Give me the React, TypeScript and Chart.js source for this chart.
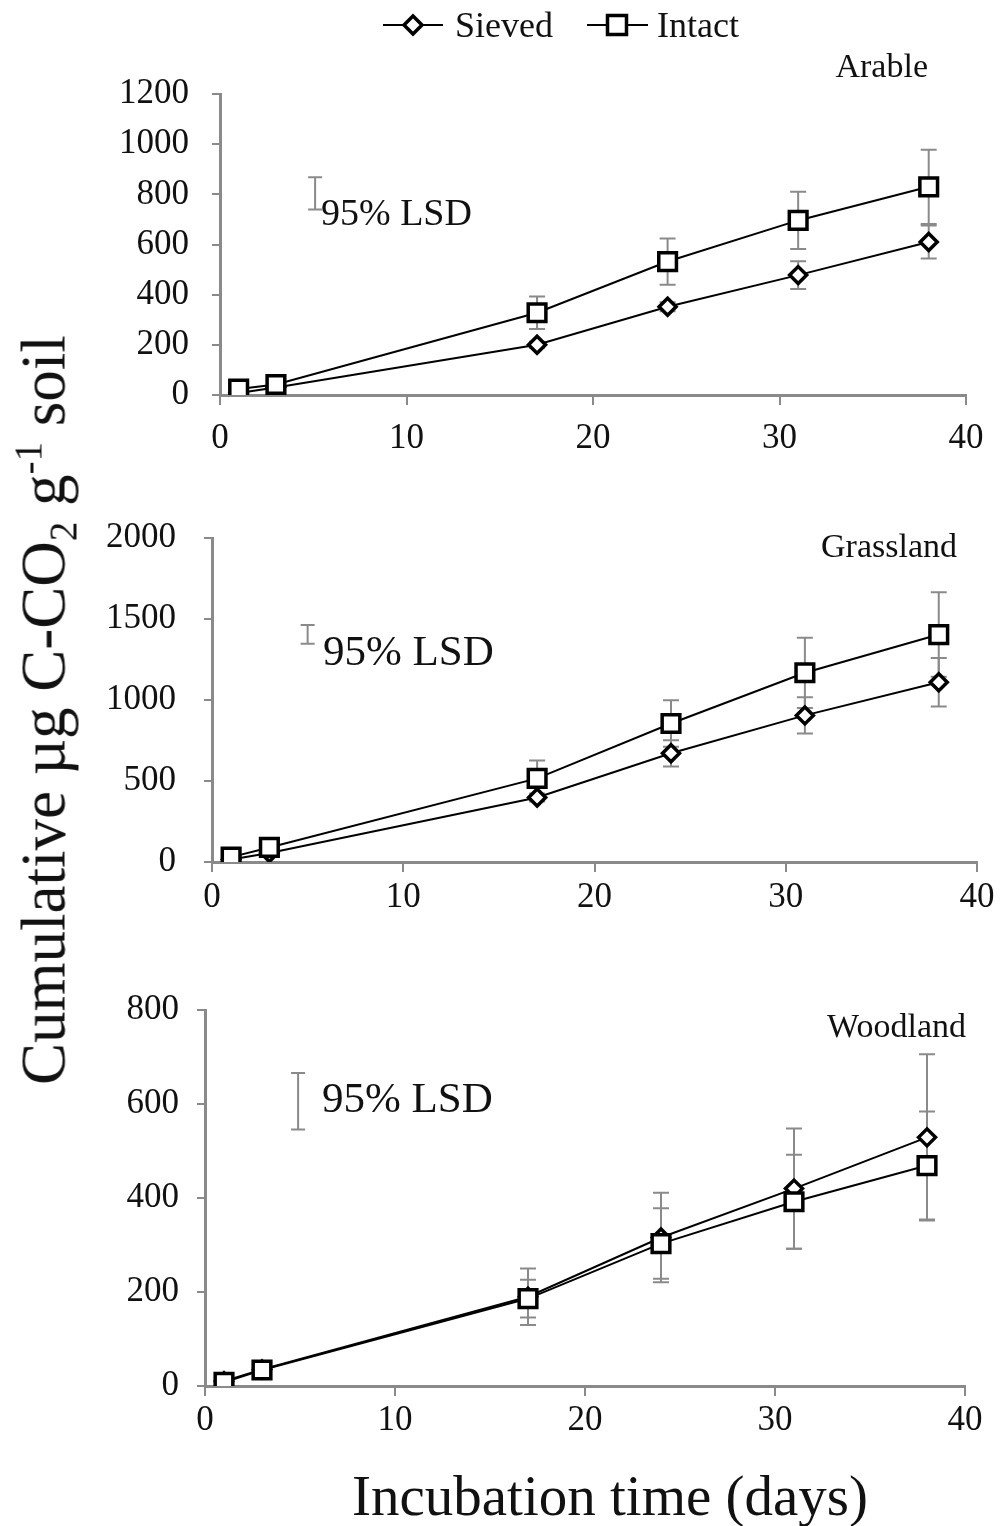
import React, { useEffect, useRef } from "react";
import { Chart, registerables } from "chart.js";

Chart.register(...registerables);

// ---------------- DATA ----------------
const days = [1, 3, 17, 24, 31, 38];
const xTicks = [0, 10, 20, 30, 40];
const seriesNames = ["Sieved", "Intact"];
const panelTitles = ["Arable", "Grassland", "Woodland"];

const arableSieved = [8, 30, 200, 352, 478, 610];
const arableSievedErr = [4, 8, 12, 18, 55, 66];
const arableIntact = [24, 42, 328, 532, 696, 830];
const arableIntactErr = [5, 10, 65, 92, 114, 148];

const grassSieved = [15, 55, 398, 671, 905, 1110];
const grassSievedErr = [5, 10, 25, 81, 112, 150];
const grassIntact = [30, 90, 516, 855, 1168, 1404];
const grassIntactErr = [8, 15, 111, 143, 217, 261];

const woodSieved = [10, 35, 190, 316, 420, 529];
const woodSievedErr = [4, 8, 60, 95, 128, 177];
const woodIntact = [8, 34, 186, 303, 392, 469];
const woodIntactErr = [4, 8, 40, 75, 100, 115];

const yTicksArable = [0, 200, 400, 600, 800, 1000, 1200];
const yTicksGrass = [0, 500, 1000, 1500, 2000];
const yTicksWood = [0, 200, 400, 600, 800];

const lsdDay = [5.1, 5.0, 4.9];
const lsdCenter = [804, 1405, 606];
const lsdHalf = [64, 58, 60];
const lsdLabel = "95% LSD";

const sievedSets = [arableSieved, grassSieved, woodSieved];
const sievedErrSets = [arableSievedErr, grassSievedErr, woodSievedErr];
const intactSets = [arableIntact, grassIntact, woodIntact];
const intactErrSets = [arableIntactErr, grassIntactErr, woodIntactErr];
const yTickSets = [yTicksArable, yTicksGrass, yTicksWood];

// ---------------- LAYOUT ----------------
const W = 1001;
const H = 1526;
const XH = 60;
const SERIF = '"Liberation Serif", "Times New Roman", serif';
const AXIS = "#8a8a8a";
const ERR = "#8a8a8a";

const PANELS = [
  { left: 220, right: 966, top: 94, bottom: 395, yPad: 23, xPad: 13, titleX: 928, titleY: 77, lsdTextX: 321, lsdTextY: 225, lsdFont: 38 },
  { left: 212, right: 977, top: 538, bottom: 862, yPad: 28, xPad: 5, titleX: 957, titleY: 557, lsdTextX: 323, lsdTextY: 665, lsdFont: 43 },
  { left: 205, right: 965, top: 1010, bottom: 1386, yPad: 18, xPad: 4, titleX: 966, titleY: 1037, lsdTextX: 322, lsdTextY: 1112, lsdFont: 43 },
];

function drawDiamond(ctx: CanvasRenderingContext2D, x: number, y: number, r: number) {
  ctx.beginPath();
  ctx.moveTo(x, y - r);
  ctx.lineTo(x + r, y);
  ctx.lineTo(x, y + r);
  ctx.lineTo(x - r, y);
  ctx.closePath();
  ctx.fillStyle = "#fff";
  ctx.fill();
  ctx.lineWidth = 3.5;
  ctx.strokeStyle = "#000";
  ctx.stroke();
}

function drawSquare(ctx: CanvasRenderingContext2D, x: number, y: number, h: number) {
  ctx.beginPath();
  ctx.rect(x - h, y - h, 2 * h, 2 * h);
  ctx.fillStyle = "#fff";
  ctx.fill();
  ctx.lineWidth = 3.5;
  ctx.strokeStyle = "#000";
  ctx.stroke();
}

function makeConfig(i: number): any {
  const p = PANELS[i];

  const errorBars = {
    id: "errBars",
    beforeDatasetsDraw(chart: any) {
      const { ctx } = chart;
      const xs = chart.scales.x;
      const ys = chart.scales.y;
      ctx.save();
      ctx.strokeStyle = ERR;
      ctx.lineWidth = 2;
      chart.data.datasets.forEach((ds: any) => {
        ds.data.forEach((pt: any, k: number) => {
          const e = ds.errors[k];
          const px = xs.getPixelForValue(pt.x);
          const y1 = ys.getPixelForValue(pt.y + e);
          const y2 = ys.getPixelForValue(Math.max(0, pt.y - e));
          ctx.beginPath();
          ctx.moveTo(px, y1);
          ctx.lineTo(px, y2);
          ctx.moveTo(px - 8, y1);
          ctx.lineTo(px + 8, y1);
          ctx.moveTo(px - 8, y2);
          ctx.lineTo(px + 8, y2);
          ctx.stroke();
        });
      });
      ctx.restore();
    },
  };

  const extras = {
    id: "extras",
    afterDraw(chart: any) {
      const { ctx } = chart;
      const xs = chart.scales.x;
      const ys = chart.scales.y;
      ctx.save();
      // LSD bar
      const lx = xs.getPixelForValue(lsdDay[i]);
      const ly1 = ys.getPixelForValue(lsdCenter[i] + lsdHalf[i]);
      const ly2 = ys.getPixelForValue(lsdCenter[i] - lsdHalf[i]);
      ctx.strokeStyle = ERR;
      ctx.lineWidth = 2;
      ctx.beginPath();
      ctx.moveTo(lx, ly1);
      ctx.lineTo(lx, ly2);
      ctx.moveTo(lx - 7, ly1);
      ctx.lineTo(lx + 7, ly1);
      ctx.moveTo(lx - 7, ly2);
      ctx.lineTo(lx + 7, ly2);
      ctx.stroke();
      // LSD text
      ctx.fillStyle = "#111";
      ctx.textBaseline = "alphabetic";
      ctx.textAlign = "left";
      ctx.font = `${p.lsdFont}px ${SERIF}`;
      ctx.fillText(lsdLabel, p.lsdTextX, p.lsdTextY);
      // panel title
      ctx.textAlign = "right";
      ctx.font = `34px ${SERIF}`;
      ctx.fillText(panelTitles[i], p.titleX, p.titleY);

      if (i === 0) {
        // legend
        ctx.strokeStyle = "#000";
        ctx.lineWidth = 2;
        ctx.beginPath();
        ctx.moveTo(383, 25);
        ctx.lineTo(443, 25);
        ctx.moveTo(587, 25);
        ctx.lineTo(648, 25);
        ctx.stroke();
        drawDiamond(ctx, 413, 25, 9);
        drawSquare(ctx, 617, 25, 9.5);
        ctx.fillStyle = "#111";
        ctx.textAlign = "left";
        ctx.font = `36px ${SERIF}`;
        ctx.fillText(seriesNames[0], 455, 37);
        ctx.fillText(seriesNames[1], 657, 37);
      }
      ctx.restore();
    },
  };

  const tickFont = { family: SERIF, size: 35 };

  return {
    type: "line",
    data: {
      datasets: [
        {
          label: seriesNames[1],
          data: days.map((d, k) => ({ x: d, y: intactSets[i][k] })),
          errors: intactErrSets[i],
          borderColor: "#000",
          borderWidth: 2,
          pointStyle: "rect",
          pointRadius: 12.5,
          pointHoverRadius: 12.5,
          pointBackgroundColor: "#fff",
          pointBorderColor: "#000",
          pointBorderWidth: 3.5,
          tension: 0,
          fill: false,
        },
        {
          label: seriesNames[0],
          data: days.map((d, k) => ({ x: d, y: sievedSets[i][k] })),
          errors: sievedErrSets[i],
          borderColor: "#000",
          borderWidth: 2,
          pointStyle: "rectRot",
          pointRadius: 8.5,
          pointHoverRadius: 8.5,
          pointBackgroundColor: "#fff",
          pointBorderColor: "#000",
          pointBorderWidth: 3.5,
          tension: 0,
          fill: false,
        },
      ],
    },
    options: {
      responsive: false,
      animation: false,
      devicePixelRatio: 1,
      events: [],
      layout: {
        padding: { top: p.top, left: 0, right: W - p.right, bottom: H - p.bottom - XH },
      },
      plugins: {
        legend: { display: false },
        tooltip: { enabled: false },
        title: { display: false },
      },
      scales: {
        x: {
          type: "linear",
          min: 0,
          max: 40,
          afterBuildTicks: (s: any) => {
            s.ticks = xTicks.map((v) => ({ value: v }));
          },
          afterFit: (s: any) => {
            s.height = XH;
          },
          ticks: {
            font: tickFont,
            color: "#111",
            padding: p.xPad,
            maxRotation: 0,
            autoSkip: false,
            callback: (v: any) => String(v),
          },
          grid: { drawOnChartArea: false, drawTicks: true, tickLength: 10, color: AXIS, lineWidth: 2 },
          border: { display: true, color: AXIS, width: 3 },
        },
        y: {
          type: "linear",
          min: 0,
          max: yTickSets[i][yTickSets[i].length - 1],
          afterBuildTicks: (s: any) => {
            s.ticks = yTickSets[i].map((v) => ({ value: v }));
          },
          afterFit: (s: any) => {
            s.width = p.left;
          },
          ticks: {
            font: tickFont,
            color: "#111",
            padding: p.yPad,
            autoSkip: false,
            callback: (v: any) => String(v),
          },
          grid: { drawOnChartArea: false, drawTicks: true, tickLength: 8, color: AXIS, lineWidth: 2 },
          border: { display: true, color: AXIS, width: 3 },
        },
      },
    },
    plugins: [errorBars, extras],
  };
}

function PanelChart({ index }: { index: number }) {
  const ref = useRef<HTMLCanvasElement>(null);
  useEffect(() => {
    if (!ref.current) return;
    const chart = new Chart(ref.current, makeConfig(index));
    return () => chart.destroy();
  }, [index]);
  return (
    <canvas
      ref={ref}
      width={W}
      height={H}
      style={{ position: "absolute", left: 0, top: 0, width: W, height: H }}
    />
  );
}

export default function App() {
  return (
    <div style={{ position: "absolute", left: 0, top: 0, width: W, height: H, background: "#fff", overflow: "hidden" }}>
      <PanelChart index={0} />
      <PanelChart index={1} />
      <PanelChart index={2} />
      <div
        style={{
          position: "absolute",
          left: 44,
          top: 710,
          transform: "translate(-50%, -50%) rotate(-90deg)",
          fontFamily: SERIF,
          fontSize: 63,
          lineHeight: 1,
          whiteSpace: "nowrap",
          color: "#111",
        }}
      >
        Cumulative µg C-CO
        <span style={{ fontSize: "0.62em", position: "relative", top: "0.3em" }}>2</span> g
        <span style={{ fontSize: "0.62em", position: "relative", top: "-0.6em" }}>-1</span> soil
      </div>
      <div
        style={{
          position: "absolute",
          left: 610,
          top: 1467,
          transform: "translateX(-50%)",
          fontFamily: SERIF,
          fontSize: 57,
          lineHeight: 1,
          whiteSpace: "nowrap",
          color: "#111",
        }}
      >
        Incubation time (days)
      </div>
    </div>
  );
}
